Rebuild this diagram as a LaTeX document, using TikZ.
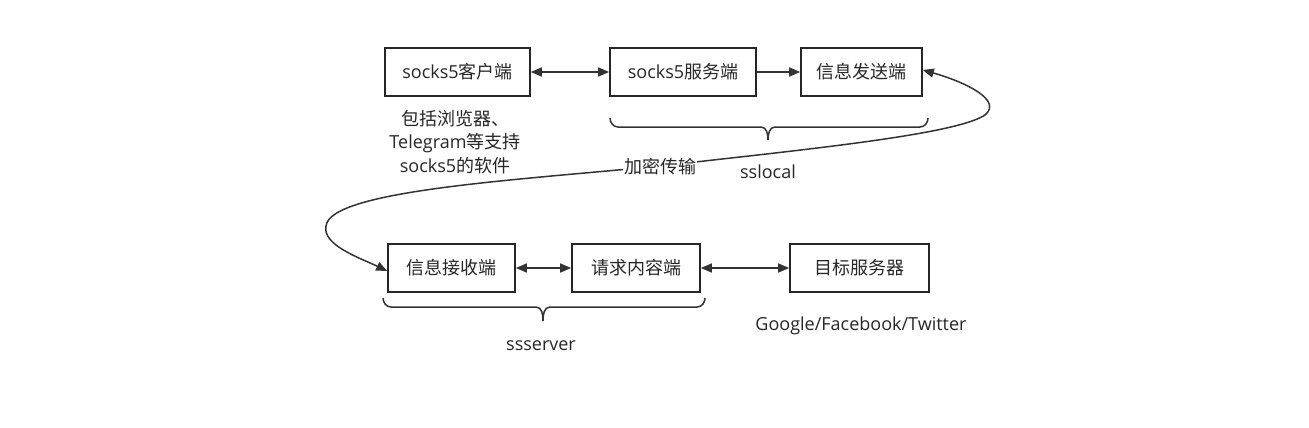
\documentclass[tikz,border=0pt]{standalone}
\usepackage{fontspec}
\setmainfont{Open Sans}
\newfontfamily\cjk{Noto Sans CJK SC}
\usetikzlibrary{arrows.meta}
\begin{document}
\begin{tikzpicture}[x=1pt,y=-1pt,
  box/.style={draw=black!85,line width=1.6pt,minimum height=48pt,inner sep=0pt,font=\fontsize{18}{20}\selectfont,text=black!85},
  conn/.style={line width=1.5pt,draw=black!80,{Triangle[width=9pt,length=11pt]}-{Triangle[width=9pt,length=11pt]}},
  oneway/.style={line width=1.5pt,draw=black!80,-{Triangle[width=9pt,length=11pt]}},
  lbl/.style={font=\fontsize{18}{23.5}\selectfont,text=black!85,inner sep=1pt},
  brace/.style={line width=1.5pt,draw=black!80}]
\useasboundingbox (0,0) rectangle (1309,428);
\node[box,minimum width=145pt] (A) at (457.5,72) {socks5{\cjk 客户端}};
\node[box,minimum width=146pt] (B) at (683,72) {socks5{\cjk 服务端}};
\node[box,minimum width=121pt] (C) at (861.5,72) {\cjk 信息发送端};
\node[box,minimum width=127pt] (D) at (451.5,268) {\cjk 信息接收端};
\node[box,minimum width=128pt] (E) at (636,268) {\cjk 请求内容端};
\node[box,minimum width=139pt] (F) at (859.5,268) {\cjk 目标服务器};
\draw[conn] (A) -- (B);
\draw[oneway] (B) -- (C);
\draw[conn] (D) -- (E);
\draw[conn] (E) -- (F);
\node[lbl,align=center] (note) at (455,142) {{\cjk 包括浏览器、}\\Telegram{\cjk 等支持}\\socks5{\cjk 的软件}};
\node[lbl] (g) at (861,326) {Google/Facebook/Twitter};
\coordinate (b1) at (610,118);
\coordinate (b2) at (928,118);
\coordinate (t1) at (768,140);
\draw[brace] (b1) to[out=-90,in=180] ++(8,9) -- (761,127) to[out=0,in=90] (t1)
  to[out=90,in=180] (775,127) -- (920,127) to[out=0,in=-90] (b2);
\node[lbl] (sl) at (768,172) {sslocal};
\coordinate (b3) at (383,298);
\coordinate (b4) at (705,298);
\coordinate (t2) at (543,321);
\draw[brace] (b3) to[out=-90,in=180] ++(8,9) -- (536,307) to[out=0,in=90] (t2)
  to[out=90,in=180] (550,307) -- (697,307) to[out=0,in=-90] (b4);
\node[lbl] (ss) at (541,346) {ssserver};
\coordinate (k1) at (985,115);
\coordinate (k2) at (660,166);
\coordinate (k3) at (326,226);
\draw[line width=1.5pt,draw=black!80,{Triangle[width=9pt,length=11pt]}-{Triangle[width=9pt,length=11pt]}]
  ([yshift=2pt]C.east) .. controls (965,82) and (1003,100) .. (k1)
  .. controls (955,135) and (800,150) .. (k2)
  .. controls (520,180) and (330,190) .. (k3)
  .. controls (322,245) and (360,258) .. ([yshift=-3pt]D.west);
\node[lbl,fill=white,inner sep=1pt] (enc) at (660,167) {\cjk 加密传输};
\end{tikzpicture}
\end{document}
